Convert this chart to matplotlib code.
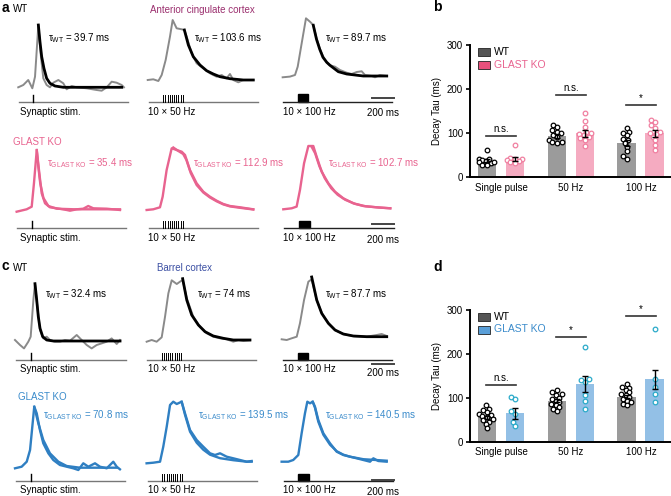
import numpy as np
import matplotlib
matplotlib.use("Agg")
import matplotlib.pyplot as plt
from matplotlib.patches import Rectangle

plt.rcParams["font.family"] = ["Liberation Sans", "DejaVu Sans"]
plt.rcParams["mathtext.fontset"] = "custom"
plt.rcParams["mathtext.rm"] = "Liberation Sans"
plt.rcParams["mathtext.it"] = "Liberation Sans:italic"
plt.rcParams["mathtext.bf"] = "Liberation Sans:bold"

# ---------------- traces (time in ms, amplitude in a.u. above baseline) ----------------
# anterior cingulate cortex, WT
acc_wt_sp_raw_t = [-140, -93, -47, -9, 16, 47, 68, 93, 124, 155, 186, 233, 279, 310, 357, 403, 496, 589, 636, 683, 729, 775, 822, 843]
acc_wt_sp_raw = [-0.8, 1.5, 6.5, -1.8, 9.8, 61.5, 33.2, 8.2, 1.5, -0.8, 3.8, 6.5, 3.2, -2.8, 0.5, -0.8, -1.8, -3.5, -4.2, -0.8, 4.8, 3.8, 1.5, -0.8]
acc_wt_sp_fit_t = [47, 62, 78, 99, 124, 155, 202, 279, 822]
acc_wt_sp_fit = [61.5, 44.8, 29.8, 18.2, 8.2, 3.2, 0.5, -0.8, -0.8]

acc_wt_50_raw_t = [-145, -93, -46, -15, 22, 62, 87, 124, 171, 196, 217, 264, 310, 372, 434, 496, 543, 589, 620, 651, 698, 744, 837]
acc_wt_50_raw = [0, 0.7, -1, 5, 20, 43.3, 60, 51.7, 50.7, 50, 43.3, 26.7, 16.7, 11.7, 6.7, 3.3, 5, 1.7, 6, 0, -2.3, 0, 0]
acc_wt_50_fit_t = [196, 233, 279, 341, 403, 465, 527, 620, 744, 837]
acc_wt_50_fit = [50, 35, 23.3, 15, 9.3, 6, 3.3, 1.3, 0, 0]

acc_wt_100_raw_t = [-140, -72, -25, 0, 37, 77, 114, 145, 175, 205, 235, 270, 300, 347, 393, 456, 502, 549, 595, 626, 688, 719, 765, 828]
acc_wt_100_raw = [0, 0.7, 2.3, 10.6, 34, 59, 55.6, 52.3, 39, 29, 21, 15, 12, 10.6, 7.3, 4.6, 3.3, 5.3, 6, 2.3, 1.3, 0, 2.3, 1.3]
acc_wt_100_fit_t = [145, 175, 205, 235, 270, 300, 378, 456, 610, 828]
acc_wt_100_fit = [52, 38, 28, 20, 15, 12, 5.6, 3.3, 1.3, 1.3]

# anterior cingulate cortex, GLAST KO
acc_ko_sp_raw_t = [-140, -47, 0, 21, 47, 71, 93, 124, 170, 233, 326, 356, 419, 480, 526, 573, 698, 821]
acc_ko_sp_raw = [-1.7, 0.7, 3.3, 26.7, 60, 36.7, 16.7, 6.7, 2.7, 1.7, 0, -0.7, 0.7, 1.3, 4, 1.7, 1.3, 0]
acc_ko_sp_fit_t = [47, 62, 79, 109, 155, 233, 400, 821]
acc_ko_sp_fit = [60, 43, 27, 12, 4, 1.3, 0.7, 0.7]

acc_ko_50_raw_t = [-155, -93, -31, -6, 31, 78, 124, 171, 202, 248, 310, 372, 434, 496, 558, 620, 713, 837]
acc_ko_50_raw = [0, 0.7, 2.7, 13.3, 40, 61.7, 60, 58.3, 55, 40, 26.7, 18.3, 13.3, 9.3, 6, 4, 2.7, 0.7]
acc_ko_50_fit_t = [93, 140, 185, 215, 255, 310, 372, 434, 496, 558, 620, 713, 837]
acc_ko_50_fit = [62.5, 59, 56, 50, 37, 25, 17.5, 12.5, 8.7, 5.6, 3.6, 2.2, 0.5]

acc_ko_100_raw_t = [-146, -68, -22, 9, 47, 87, 133, 164, 211, 273, 335, 412, 505, 598, 722, 849]
acc_ko_100_raw = [0, 1, 2.7, 19.3, 46, 63.3, 63.3, 52.6, 37.6, 26, 17.6, 11, 6, 3.3, 2, 1]
acc_ko_100_fit_t = [120, 150, 190, 240, 300, 360, 430, 520, 620, 740, 849]
acc_ko_100_fit = [62, 56, 43, 31, 21, 14.5, 9.5, 5.5, 3, 1.8, 1]

# barrel cortex, WT
bc_wt_sp_raw_t = [-149, -102, -65, -25, -3, 22, 37, 59, 84, 115, 146, 177, 223, 270, 316, 363, 425, 471, 518, 564, 611, 657, 704, 750, 797, 828]
bc_wt_sp_raw = [1.7, -3.3, -6.7, 0, 5, 41.7, 58, 35, 11.7, 3.3, 5, 1.7, 0, 0, 1.7, 1, 6.7, 1.7, -3.3, -6.7, -3.3, -1.7, 0, 3.3, -2.3, 1.7]
bc_wt_sp_fit_t = [37, 53, 68, 84, 109, 146, 208, 828]
bc_wt_sp_fit = [58, 41.7, 25, 13.3, 5, 1.7, 0.7, 0.7]

bc_wt_50_raw_t = [-140, -93, -47, 0, 31, 62, 93, 140, 170, 195, 233, 294, 356, 419, 480, 542, 605, 666, 713, 759, 821]
bc_wt_50_raw = [-1.7, 0, -1.7, 2.7, 23.3, 46.7, 59.7, 56, 58.3, 60, 41.7, 23.3, 13.3, 6.7, 3.3, 1.7, 0.7, -1.7, 0, -1, -0.3]
bc_wt_50_fit_t = [195, 233, 279, 341, 403, 480, 573, 666, 821]
bc_wt_50_fit = [61.3, 40, 25, 15, 8.3, 4, 1.7, 0, 0]

bc_wt_100_raw_t = [-149, -102, -56, -9, 21, 59, 99, 130, 177, 230, 290, 350, 430, 530, 640, 735, 781, 828]
bc_wt_100_raw = [0, -0.7, 1, 2.6, 16, 39.3, 57.6, 60, 39, 25, 15.5, 9, 5, 3, 2.6, 4.3, 5.3, 3.3]
bc_wt_100_fit_t = [130, 177, 223, 285, 347, 424, 517, 642, 828]
bc_wt_100_fit = [62.3, 39.3, 26, 16, 9.3, 5.3, 3.3, 2.6, 2.6]

# barrel cortex, GLAST KO
bc_ko_sp_raw_t = [-146, -84, -37, -6, 15, 33, 56, 86, 117, 164, 210, 272, 335, 396, 443, 489, 536, 598, 644, 707, 768, 800, 830]
bc_ko_sp_raw = [0, 1.6, 6.6, 18.3, 41.6, 61.6, 55, 38.3, 25, 15, 8.3, 3.3, 1.6, 0, -1.7, 5, 1.6, 5, 1.6, 0, 6.6, 1.6, -1]
bc_ko_sp_fit_t = [33, 71, 117, 179, 257, 335, 458, 800]
bc_ko_sp_fit = [61.6, 45, 28.3, 15, 6.6, 2.3, 0.6, 0.6]

bc_ko_50_raw_t = [-146, -84, -21, 9, 41, 72, 102, 134, 180, 211, 258, 320, 381, 444, 490, 537, 599, 660, 723, 785, 831]
bc_ko_50_raw = [-0.6, 0, 1, 16, 36, 57.7, 61, 58.7, 61, 49.4, 32.7, 22.7, 16, 9.4, 7.7, 9.4, 6, 4.4, 2.7, 1, 1.7]
bc_ko_50_fit_t = [180, 211, 258, 320, 381, 444, 537, 660, 785, 831]
bc_ko_50_fit = [61, 48, 31, 20, 13, 8, 4.5, 2.5, 1, 1]

bc_ko_100_raw_t = [-155, -93, -47, 0, 31, 62, 84, 109, 134, 155, 186, 233, 295, 357, 419, 481, 543, 605, 667, 698, 744, 822]
bc_ko_100_raw = [0, 0, 1.7, 6.7, 28.4, 48.4, 60, 58.4, 60, 55, 41.7, 28.4, 18.4, 10, 6.7, 5, 3.4, 1.7, 0, 3.4, 0.7, 0]
bc_ko_100_fit_t = [134, 155, 186, 233, 295, 357, 419, 481, 605, 822]
bc_ko_100_fit = [60, 54, 40, 27, 17, 10.5, 7, 5, 2.5, 1]

acc_wt_tau = ["39.7", "103.6", "89.7"]
acc_ko_tau = ["35.4", "112.9", "102.7"]
bc_wt_tau = ["32.4", "74", "87.7"]
bc_ko_tau = ["70.8", "139.5", "140.5"]
protocols = ["Synaptic stim.", "10 \u00d7 50 Hz", "10 \u00d7 100 Hz"]

# ---------------- decay tau bar charts ----------------
categories = ["Single pulse", "50 Hz", "100 Hz"]

b_wt_mean = [37, 93, 78]
b_wt_sem = [3, 4, 6.5]
b_ko_mean = [42, 99, 99]
b_ko_sem = [4.5, 7.5, 7.5]
b_wt_points = [[61, 42, 40, 38, 36, 34, 31, 28, 27, 35],
               [118, 114, 106, 103, 99, 96, 92, 84, 80, 80, 78],
               [111, 103, 99, 95, 87, 84, 77, 69, 58, 48, 42]]
b_ko_points = [[73, 44, 42, 40, 38, 36, 34, 32],
               [145, 128, 114, 103, 100, 98, 95, 92, 88, 85, 70],
               [130, 126, 118, 111, 103, 100, 97, 92, 84, 73, 61]]
b_sig = [(93, "n.s."), (186, "n.s."), (164, "*")]

d_wt_mean = [55, 93, 102]
d_wt_sem = [4, 4, 4]
d_ko_mean = [64, 130, 141]
d_ko_sem = [12, 18, 21]
d_wt_points = [[82, 75, 72, 67, 63, 60, 58, 55, 52, 48, 45, 40, 31],
               [116, 112, 108, 105, 100, 97, 93, 89, 85, 82, 78, 74, 70],
               [131, 125, 122, 118, 112, 108, 105, 101, 97, 93, 89, 86, 82]]
d_ko_points = [[102, 97, 70, 63, 44, 36],
               [214, 142, 139, 135, 105, 93, 74],
               [256, 142, 123, 108, 89]]
d_sig = [(129, "n.s."), (237, "*"), (286, "*")]

# ---------------- colours ----------------
PINK = "#e8638f"
PINK_BAR = "#f5abc1"
PINK_PT = "#f07fa0"
PINK_LEG = "#e8507c"
BLUE = "#2f7fc2"
BLUE_TEXT = "#3a8bcb"
BLUE_BAR = "#93c0e6"
BLUE_PT = "#2aaac9"
BLUE_LEG = "#5a9fd8"
WT_BAR = "#9b9b9b"
WT_LEG = "#555555"
GRAY_TRACE = "#8a8a8a"

W, H = 671, 496
fig = plt.figure(figsize=(W / 100, H / 100), dpi=100)


def px_axes(x0, y0, w, h):
    return fig.add_axes([x0 / W, 1 - (y0 + h) / H, w / W, h / H])


def ftext(x, y, s, **kw):
    kw.setdefault("fontsize", 7)
    kw.setdefault("va", "center")
    fig.text(x / W, 1 - y / H, s, **kw)


MS_PER_PX = 9.3
XL = (-170, 910)
YL = (-32, 70)


def trace(col, stim_x, base_y, stim_y, raw_t, raw, fit_t, fit, ko_color=None):
    ax = px_axes(stim_x + XL[0] / MS_PER_PX, base_y - YL[1],
                 (XL[1] - XL[0]) / MS_PER_PX, YL[1] - YL[0])
    ax.set_xlim(XL)
    ax.set_ylim(YL)
    ax.axis("off")
    if ko_color is None:
        ax.plot(raw_t, raw, color=GRAY_TRACE, lw=1.4, clip_on=False)
        ax.plot(fit_t, fit, color="k", lw=2.0, clip_on=False)
    else:
        ax.plot(raw_t, raw, color=ko_color, lw=1.7, clip_on=False)
        ax.plot(fit_t, fit, color=ko_color, lw=1.7, clip_on=False)
    s = base_y - stim_y
    ax.plot([-135, 880], [s, s], color="#777777" if col < 2 else "#222222", lw=1, clip_on=False)
    if col == 0:
        ax.plot([0, 0], [s, s + 7], color="k", lw=1, clip_on=False)
    elif col == 1:
        for k in range(10):
            ax.plot([k * 20, k * 20], [s, s + 7], color="k", lw=0.7, clip_on=False)
    else:
        ax.add_patch(Rectangle((0, s), 100, 7.5, color="k", clip_on=False))
    return ax


def trace_row(stims_x, bases, stim_y, series, ko_color=None):
    for col in range(3):
        raw_t, raw, fit_t, fit = series[col]
        trace(col, stims_x[col], bases[col], stim_y, raw_t, raw, fit_t, fit, ko_color)


trace_row([33.3, 163.3, 297.7], [86.5, 80, 77.3], 101.7,
          [(acc_wt_sp_raw_t, acc_wt_sp_raw, acc_wt_sp_fit_t, acc_wt_sp_fit),
           (acc_wt_50_raw_t, acc_wt_50_raw, acc_wt_50_fit_t, acc_wt_50_fit),
           (acc_wt_100_raw_t, acc_wt_100_raw, acc_wt_100_fit_t, acc_wt_100_fit)])
trace_row([31.7, 163.3, 299], [210, 210, 209.3], 228.3,
          [(acc_ko_sp_raw_t, acc_ko_sp_raw, acc_ko_sp_fit_t, acc_ko_sp_fit),
           (acc_ko_50_raw_t, acc_ko_50_raw, acc_ko_50_fit_t, acc_ko_50_fit),
           (acc_ko_100_raw_t, acc_ko_100_raw, acc_ko_100_fit_t, acc_ko_100_fit)], PINK)
trace_row([31, 161.7, 297.7], [341.7, 340, 339.3], 360,
          [(bc_wt_sp_raw_t, bc_wt_sp_raw, bc_wt_sp_fit_t, bc_wt_sp_fit),
           (bc_wt_50_raw_t, bc_wt_50_raw, bc_wt_50_fit_t, bc_wt_50_fit),
           (bc_wt_100_raw_t, bc_wt_100_raw, bc_wt_100_fit_t, bc_wt_100_fit)])
trace_row([30.7, 162.3, 298.3], [468.3, 462.7, 461.7], 481,
          [(bc_ko_sp_raw_t, bc_ko_sp_raw, bc_ko_sp_fit_t, bc_ko_sp_fit),
           (bc_ko_50_raw_t, bc_ko_50_raw, bc_ko_50_fit_t, bc_ko_50_fit),
           (bc_ko_100_raw_t, bc_ko_100_raw, bc_ko_100_fit_t, bc_ko_100_fit)], BLUE)

# trace labels
row_label_y = [112, 238, 369, 490]
for y in row_label_y:
    for x, s in zip([20, 148, 283], protocols):
        ftext(x, y, s)

for y, dy in [(97.7, 113), (223.7, 240), (364.3, 372.7), (480, 491.7)]:
    fig.add_artist(plt.Line2D([372 / W, 393.5 / W], [1 - y / H, 1 - y / H], color="#444444", lw=1.4))
    ftext(383, dy, "200 ms", ha="center")

wt_lab = r"$\mathrm{\tau_{WT}}$ = %s ms"
ko_lab = r"$\mathrm{\tau_{GLAST\ KO}}$ = %s ms"
for x, v in zip([48, 194, 325], acc_wt_tau):
    ftext(x, 38, wt_lab % v)
for x, v in zip([47, 193, 328], acc_ko_tau):
    ftext(x, 163, ko_lab % v, color=PINK)
for x, v in zip([45, 197, 325], bc_wt_tau):
    ftext(x, 294, wt_lab % v)
for x, v in zip([43, 198, 325], bc_ko_tau):
    ftext(x, 415, ko_lab % v, color=BLUE_TEXT)

ftext(2, 8, "a", fontsize=10, fontweight="bold")
ftext(13, 9, "WT")
ftext(150, 10, "Anterior cingulate cortex", color="#9b2f6e")
ftext(13, 142, "GLAST KO", color=PINK)
ftext(2, 266, "c", fontsize=10, fontweight="bold")
ftext(13, 268, "WT")
ftext(157, 268, "Barrel cortex", color="#3b4fa3")
ftext(18, 397, "GLAST KO", color=BLUE_TEXT)
ftext(433, 7, "b", fontsize=10, fontweight="bold")
ftext(433, 267, "d", fontsize=10, fontweight="bold")


# ---------------- bar panels ----------------
PX_X, PX_Y = 70.0, 132 / 300.0


def swarm(vals, center, diam=4.0, step=1.2, max_off=9.0):
    placed = []
    xs = np.zeros(len(vals))
    for i in np.argsort(vals):
        y = vals[i] * PX_Y
        best, best_d = 0.0, -1.0
        for k in range(int(max_off / step) + 1):
            for c in ([0.0] if k == 0 else [-k * step, k * step]):
                d = min([np.hypot(c - px, y - py) for px, py in placed] or [99.0])
                if d >= diam:
                    best, best_d = c, 99.0
                    break
                if d > best_d:
                    best, best_d = c, d
            if best_d >= diam:
                break
        placed.append((best, y))
        xs[i] = center + best / PX_X
    return xs


def bar_panel(top_y, wt_mean, wt_sem, wt_pts, ko_mean, ko_sem, ko_pts, ko_bar, ko_pt, ko_leg, ko_text, sig):
    ax = px_axes(470, top_y, 201, 132)
    x = np.arange(3)
    ax.bar(x - 0.2, wt_mean, 0.27, color=WT_BAR, zorder=1)
    ax.bar(x + 0.2, ko_mean, 0.27, color=ko_bar, zorder=1)
    for i in range(3):
        ax.scatter(swarm(wt_pts[i], i - 0.2), wt_pts[i], s=11, facecolor="white",
                   edgecolor="k", lw=0.9, zorder=3, clip_on=False)
        ax.scatter(swarm(ko_pts[i], i + 0.2), ko_pts[i], s=11, facecolor="white",
                   edgecolor=ko_pt, lw=0.9, zorder=3, clip_on=False)
        y, s = sig[i]
        ax.plot([i - 0.21, i + 0.21], [y, y], color="#333333", lw=1.2)
        ax.text(i, y + 4, s, ha="center", va="bottom", fontsize=7)
    ax.errorbar(x - 0.2, wt_mean, yerr=wt_sem, fmt="none", ecolor="k", elinewidth=1,
                capsize=2.5, capthick=1, zorder=4)
    ax.errorbar(x + 0.2, ko_mean, yerr=ko_sem, fmt="none", ecolor="k", elinewidth=1,
                capsize=2.5, capthick=1, zorder=4)
    ax.set_xlim(-0.443, 2.43)
    ax.set_ylim(0, 300)
    ax.set_yticks([0, 100, 200, 300])
    ax.set_xticks(x)
    ax.set_xticklabels(categories)
    ax.tick_params(axis="y", length=3, width=1.2, labelsize=7, pad=2)
    ax.tick_params(axis="x", length=0, labelsize=7, pad=4)
    for sp in ["top", "right"]:
        ax.spines[sp].set_visible(False)
    for sp in ["left", "bottom"]:
        ax.spines[sp].set_linewidth(1.4)
    ftext(437, top_y + 66, "Decay Tau (ms)", rotation=90, ha="center")
    for dy, col, lab, tcol in [(7, WT_LEG, "WT", "k"), (20, ko_leg, "GLAST KO", ko_text)]:
        fig.add_artist(Rectangle((478 / W, 1 - (top_y + dy + 4) / H), 12 / W, 8 / H,
                                 transform=fig.transFigure, facecolor=col,
                                 edgecolor="#222222", lw=0.6))
        ftext(494, top_y + dy, lab, color=tcol, fontsize=7.5)


bar_panel(45, b_wt_mean, b_wt_sem, b_wt_points, b_ko_mean, b_ko_sem, b_ko_points,
          PINK_BAR, PINK_PT, PINK_LEG, PINK, b_sig)
bar_panel(309.5, d_wt_mean, d_wt_sem, d_wt_points, d_ko_mean, d_ko_sem, d_ko_points,
          BLUE_BAR, BLUE_PT, BLUE_LEG, BLUE_TEXT, d_sig)

fig.savefig("out.png", dpi=100)
